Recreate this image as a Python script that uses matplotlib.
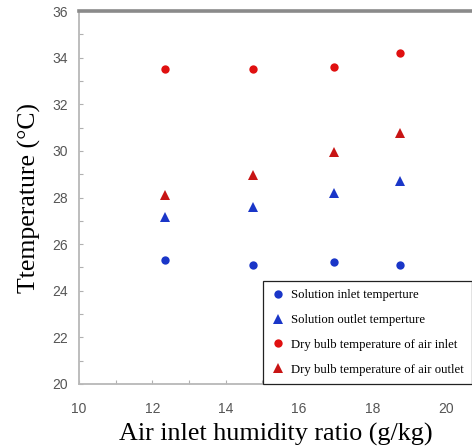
import matplotlib
matplotlib.use("Agg")
import matplotlib.pyplot as plt
from matplotlib.ticker import MultipleLocator

# Air inlet humidity ratio (g/kg)
humidity = [12.35, 14.75, 16.95, 18.75]

# Temperatures (°C)
solution_inlet = [25.33, 25.12, 25.22, 25.12]
solution_outlet = [27.18, 27.6, 28.2, 28.69]
air_inlet_db = [33.51, 33.5, 33.6, 34.22]
air_outlet_db = [28.09, 28.96, 29.94, 30.77]

series_labels = [
    "Solution inlet temperture",
    "Solution outlet temperture",
    "Dry bulb temperature of air inlet",
    "Dry bulb temperature of air outlet",
]

xticks = [10, 12, 14, 16, 18, 20]
yticks = [20, 22, 24, 26, 28, 30, 32, 34, 36]

serif = ["Liberation Serif", "DejaVu Serif"]
sans = ["Liberation Sans", "DejaVu Sans"]

fig = plt.figure(figsize=(4.72, 4.48), dpi=100)
ax = fig.add_axes([0.1674, 0.1429, 0.8326, 0.8325])

blue = "#1a36c8"
red = "#e01010"
red_dark = "#c81414"

ms = 6.0
ax.plot(humidity, solution_inlet, "o", color=blue, ms=ms, mew=0, label=series_labels[0])
ax.plot(humidity, solution_outlet, "^", color=blue, ms=ms + 0.6, mew=0, label=series_labels[1])
ax.plot(humidity, air_inlet_db, "o", color=red, ms=ms, mew=0, label=series_labels[2])
ax.plot(humidity, air_outlet_db, "^", color=red_dark, ms=ms + 0.6, mew=0, label=series_labels[3])

ax.set_xlim(10, 20.71)
ax.set_ylim(20, 36)
ax.set_xticks(xticks)
ax.set_yticks(yticks)
ax.xaxis.set_minor_locator(MultipleLocator(1))
ax.yaxis.set_minor_locator(MultipleLocator(1))

ax.tick_params(which="both", direction="in", length=3, width=0.8, color="#b0b0b0")
ax.tick_params(axis="both", which="major", labelsize=10, labelcolor="#555555")
ax.tick_params(axis="x", which="major", pad=13)
ax.tick_params(axis="y", which="major", pad=8)
for lbl in ax.get_xticklabels() + ax.get_yticklabels():
    lbl.set_family(sans)

for side in ("left", "bottom"):
    ax.spines[side].set_color("#b8b8b8")
    ax.spines[side].set_linewidth(1.3)
ax.spines["top"].set_color("#8a8a8a")
ax.spines["top"].set_linewidth(2.6)
ax.spines["right"].set_visible(False)

ax.set_xlabel("Air inlet humidity ratio (g/kg)", family=serif, fontsize=18.8, labelpad=5)
ax.set_ylabel("Ttemperature (°C)", family=serif, fontsize=18.5, labelpad=8)

leg = ax.legend(
    loc="lower right",
    bbox_to_anchor=(0.9995, 0.0),
    prop={"family": serif, "size": 9.2},
    frameon=True,
    fancybox=False,
    framealpha=1,
    edgecolor="#222222",
    handletextpad=0.5,
    handlelength=1.0,
    labelspacing=1.0,
    borderpad=0.65,
    borderaxespad=0.0,
)
leg.get_frame().set_linewidth(0.9)

fig.savefig("out.png", dpi=100)
